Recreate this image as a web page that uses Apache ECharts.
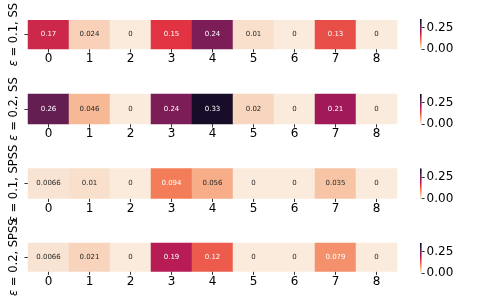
<!DOCTYPE html>
<html>
<head>
<meta charset="utf-8">
<script src="https://cdn.jsdelivr.net/npm/echarts@6/dist/echarts.min.js"></script>
<style>
html,body{margin:0;padding:0;background:#fff;}
#c{width:498px;height:299px;}
</style>
</head>
<body>
<div id="c"></div>
<script>
// ---- data ----
const categories = ['0','1','2','3','4','5','6','7','8'];
const rowLabels = ['0.1, SS', '0.2, SS', '0.1, SPSS', '0.2, SPSS'];
const ss01   = [0.17, 0.024, 0, 0.15, 0.24, 0.01, 0, 0.13, 0];
const ss02   = [0.26, 0.046, 0, 0.24, 0.33, 0.02, 0, 0.21, 0];
const spss01 = [0.0066, 0.01, 0, 0.094, 0.056, 0, 0, 0.035, 0];
const spss02 = [0.0066, 0.021, 0, 0.19, 0.12, 0, 0, 0.079, 0];
const colorbarTicks = [0, 0.25];
const VMIN = 0, VMAX = 0.35;
// ---- style ----
const rocketR = ['#faebdd','#f6b48f','#f37651','#e13342','#ad1759','#701f57','#35193e','#03051a'];
const rows = [ss01, ss02, spss01, spss02];
const tops = [19, 94, 168.5, 243];
const H = 30, LEFT = 23, RIGHT_X = 397;
const FONT = 'DejaVu Sans';

const chart = echarts.init(document.getElementById('c'), null, {renderer:'canvas'});
const grid = [], xAxis = [], yAxis = [], series = [];
rows.forEach((vals, r) => {
  grid.push({left: LEFT, top: tops[r], width: RIGHT_X - LEFT, height: H, containLabel:false});
  xAxis.push({type:'category', gridIndex:r, data:categories,
    axisLine:{show:false}, splitLine:{show:false}, splitArea:{show:false},
    axisTick:{show:true, alignWithLabel:true, length:3.5, lineStyle:{color:'#000', width:0.8}},
    axisLabel:{color:'#000', fontSize:12, fontFamily:FONT, margin:4}});
  yAxis.push({type:'category', gridIndex:r, data:[''],
    axisLine:{show:false}, splitLine:{show:false}, splitArea:{show:false},
    axisTick:{show:true, alignWithLabel:true, length:3.5, lineStyle:{color:'#000', width:0.8}},
    axisLabel:{show:false},
    name:'{e|ε} = ' + rowLabels[r], nameLocation:'middle', nameRotate:90, nameGap:8,
    nameTextStyle:{color:'#000', fontSize:11.5, fontFamily:FONT,
      rich:{e:{fontStyle:'italic', fontSize:11.5, fontFamily:FONT, color:'#000'}}}});
  series.push({type:'heatmap', xAxisIndex:r, yAxisIndex:r,
    data: vals.map((v,i)=>({value:[i,0,v], label:{color: v >= 0.07 ? '#ffffff' : '#262626'}})),
    label:{show:true, fontSize:7, fontFamily:FONT, formatter: p => String(p.value[2])},
    itemStyle:{borderWidth:0},
    emphasis:{disabled:true}});
});
// colorbars
rows.forEach((vals, r) => {
  const gi = rows.length + r;
  grid.push({left: 420, top: tops[r], width: 1.6, height: H});
  xAxis.push({type:'category', gridIndex:gi, data:[''], show:false});
  yAxis.push({type:'value', gridIndex:gi, min:VMIN, max:VMAX, position:'right',
    axisLine:{show:false}, splitLine:{show:false},
    axisTick:{show:true, length:3, customValues:colorbarTicks, lineStyle:{color:'#000', width:0.8}},
    axisLabel:{show:true, customValues:colorbarTicks, margin:5, color:'#000', fontSize:12, fontFamily:FONT,
      formatter: v => v.toFixed(2)}});
  series.push({type:'bar', xAxisIndex:gi, yAxisIndex:gi, data:[VMAX], barWidth:'100%', silent:true,
    itemStyle:{color: new echarts.graphic.LinearGradient(0,1,0,0,
      rocketR.map((c,k)=>({offset:k/(rocketR.length-1), color:c})))}});
});

chart.setOption({
  animation:false,
  backgroundColor:'#fff',
  grid, xAxis, yAxis, series,
  visualMap:{type:'continuous', show:false, min:VMIN, max:VMAX, dimension:2,
    seriesIndex:[0,1,2,3], inRange:{color:rocketR}}
});
</script>
</body>
</html>
